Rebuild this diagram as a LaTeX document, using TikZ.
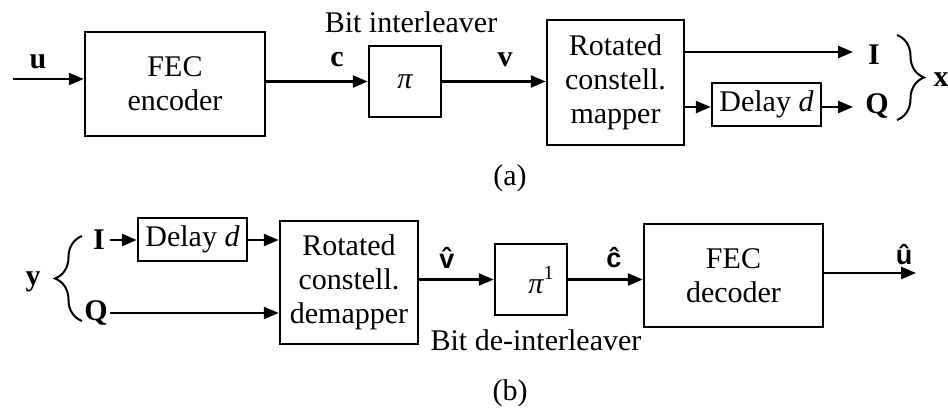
\documentclass[tikz,border=0pt]{standalone}
\usepackage{fontspec}
\setmainfont{Liberation Serif}
\setsansfont{Liberation Sans}
\usetikzlibrary{arrows.meta,decorations.pathreplacing}
\begin{document}
\begin{tikzpicture}[x=1pt,y=-1pt,
  font=\fontsize{30}{34}\selectfont,
  blk/.style={draw,line width=2.5pt,inner sep=0pt,align=center},
  arr/.style={line width=2.5pt,-{Triangle[length=15pt,width=12pt]}},
  ln/.style={line width=2.5pt},
  lbl/.style={font=\fontsize{30}{34}\selectfont\bfseries,inner sep=0pt},
  hl/.style={font=\fontsize{27}{30}\selectfont\sffamily\bfseries,inner sep=0pt},
  txt/.style={inner sep=0pt},
  br/.style={decorate,decoration={brace,amplitude=27pt},line width=2pt}]
\useasboundingbox (0,0) rectangle (948,410);
% ---------- (a)
\node[blk,minimum width=180pt,minimum height=104pt] (fec) at (175,84) {FEC\\encoder};
\node[blk,minimum width=72pt,minimum height=71pt] (pi) at (405,81.5) {\itshape π};
\node[blk,minimum width=137pt,minimum height=125pt] (map) at (615.5,82.5) {Rotated\\constell.\\mapper};
\node[blk,minimum width=109pt,minimum height=43pt] (dla) at (766.5,104.5) {Delay \textit{d}};
\coordinate (uin) at (13,79);
\node[lbl] (u) at (38,62) {u};
\node[lbl] (c) at (337,60) {c};
\node[lbl] (v) at (505,60) {v};
\node[txt] (bi) at (411,22) {Bit interleaver};
\node[lbl] (Ia) at (874,55) {I};
\node[lbl] (Qa) at (877,106) {Q};
\coordinate (Iend) at (853,52);
\coordinate (Qend) at (853,107);
\node[lbl] (xa) at (941,80) {x};
\node[txt] (capa) at (510,178) {(a)};
\draw[arr] (uin) -- (fec.west |- uin);
\draw[arr] (pi.west -| fec.east) -- (pi.west);
\draw[arr] (pi.east) -- (map.west |- pi.east);
\draw[arr] (map.east |- Iend) -- (Iend);
\draw[arr] (map.east |- Qend) -- (dla.west |- Qend);
\draw[arr] (dla.east |- Qend) -- (Qend);
\coordinate (bra1) at (897,35);
\coordinate (bra2) at (897,120);
\draw[br] (bra1) -- (bra2);
% ---------- (b)
\node[blk,minimum width=109pt,minimum height=43pt] (dlb) at (192.5,239.5) {Delay \textit{d}};
\node[blk,minimum width=138pt,minimum height=123pt] (dem) at (349,282.5) {Rotated\\constell.\\demapper};
\node[blk,minimum width=72pt,minimum height=71pt] (pinv) at (531,279.5) {};
\node[txt] (pinvt) at (541,280) {\itshape π\raisebox{0.45em}{\fontsize{20}{22}\selectfont\upshape 1}};
\node[blk,minimum width=179pt,minimum height=103pt] (dec) at (733.5,275.5) {FEC\\decoder};
\node[lbl] (yb) at (33,282) {y};
\node[lbl] (Ib) at (99,240) {I};
\node[lbl] (Qb) at (96,313) {Q};
\coordinate (Ist) at (110,240);
\coordinate (Qst) at (110,313);
\node[hl] (vh) at (447,258) {\^{v}};
\node[hl] (ch) at (614,258) {\^{c}};
\node[hl] (uh) at (904,255) {\^{u}};
\coordinate (uout) at (916,273);
\node[txt] (bdi) at (536,340) {Bit de-interleaver};
\node[txt] (capb) at (510,393) {(b)};
\draw[arr] (Ist) -- (dlb.west |- Ist);
\draw[arr] (dlb.east |- Ist) -- (dem.west |- Ist);
\draw[arr] (Qst) -- (dem.west |- Qst);
\draw[arr] (dem.east |- pinv.west) -- (pinv.west);
\draw[arr] (pinv.east) -- (dec.west |- pinv.east);
\draw[arr] (dec.east |- uout) -- (uout);
\coordinate (brb1) at (82,321);
\coordinate (brb2) at (82,236);
\draw[br] (brb1) -- (brb2);
\end{tikzpicture}
\end{document}
